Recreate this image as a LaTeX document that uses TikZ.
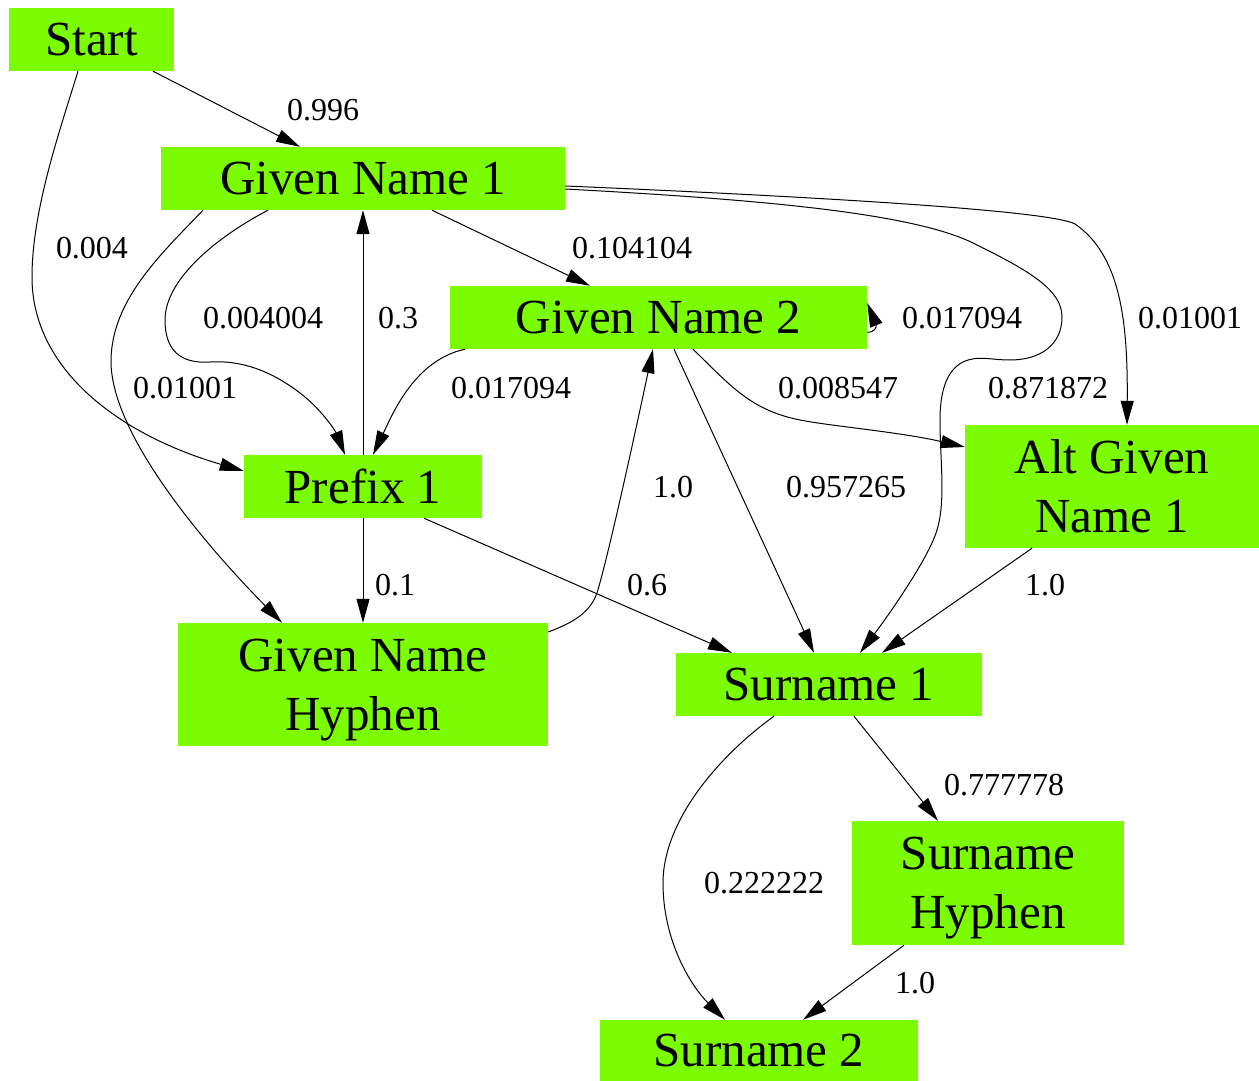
\documentclass[tikz,border=0pt]{standalone}
\usepackage{fontspec}
\setmainfont{Liberation Serif}
\usetikzlibrary{arrows.meta}
\definecolor{lgreen}{HTML}{7CFC00}
\begin{document}
\begin{tikzpicture}[x=1pt,y=-1pt,
  box/.style={rectangle, fill=lgreen, inner sep=0pt, align=center,
    font=\fontsize{49}{59}\selectfont},
  lbl/.style={inner sep=0pt, font=\fontsize{32}{38}\selectfont},
  conn/.style={draw=black, line width=1pt, -{Triangle[length=24pt,width=13pt]}}]
\useasboundingbox (0,0) rectangle (1259,1081);

% nodes
\node[box, minimum width=165pt, minimum height=63pt] (start) at (91.5,39.5) {Start};
\node[box, minimum width=404pt, minimum height=63pt] (gn1) at (363,178.5) {Given Name 1};
\node[box, minimum width=417pt, minimum height=63pt] (gn2) at (658.5,317.5) {Given Name 2};
\node[box, minimum width=238pt, minimum height=63pt] (p1) at (363,486.5) {Prefix 1};
\node[box, minimum width=294pt, minimum height=123pt] (alt) at (1112,486.5) {Alt Given\\Name 1};
\node[box, minimum width=370pt, minimum height=123pt] (gnh) at (363,684.5) {Given Name\\\raisebox{0pt}[\height][0pt]{Hyphen}};
\node[box, minimum width=306pt, minimum height=63pt] (s1) at (829,684.5) {Surname 1};
\node[box, minimum width=272pt, minimum height=124pt] (sh) at (988,883) {Surname\\\raisebox{0pt}[\height][0pt]{Hyphen}};
\node[box, minimum width=318pt, minimum height=61pt] (s2) at (759,1050.5) {Surname 2};

% connectors
\draw[conn] (start.south -| 153,0) -- (gn1.north -| 300,0);
\draw[conn] (start.south -| 78,0) .. controls (60,130) and (32,210) .. (32,277)
  .. controls (32,370) and (120,435) .. (p1.west |- 0,471);
\draw[conn] (gn1.south -| 432,0) -- (gn2.north -| 590,0);
\draw[conn] (gn1.south -| 268,0) .. controls (215,238) and (165,280) .. (165,320)
  .. controls (165,350) and (180,364) .. (210,362)
  .. controls (240,360) and (270,370) .. (300,393)
  .. controls (320,408) and (335,430) .. (p1.north -| 345,0);
\draw[conn] (p1.north) -- (gn1.south);
\draw[conn] (gn1.south -| 203,0) .. controls (160,255) and (112,300) .. (111,360)
  .. controls (110,440) and (222,562) .. (gnh.north -| 282,0);
\draw[conn] (gn2.south -| 465,0) .. controls (415,360) and (393,413) .. (p1.north -| 373,0);
\draw[conn] (gn2.east |- 0,332) .. controls (874,333) and (877,327) .. (gn2.east |- 0,303);
\draw[conn] (gn2.south -| 693,0) .. controls (730,385) and (750,410) .. (800,420)
  .. controls (830,426) and (900,432) .. (alt.west |- 0,447);
\draw[conn] (gn2.south -| 674,0) -- (s1.north -| 814,0);
\draw[conn] (gn1.east |- 0,189) .. controls (750,199) and (910,212) .. (973,243)
  .. controls (1030,271) and (1062,290) .. (1062,317)
  .. controls (1062,345) and (1040,360) .. (1010,360)
  .. controls (990,360) and (978,355) .. (963,362)
  .. controls (945,371) and (940,395) .. (940,420)
  .. controls (940,460) and (946,500) .. (937,530)
  .. controls (928,560) and (885,620) .. (s1.north -| 860,0);
\draw[conn] (gn1.east |- 0,186) .. controls (800,196) and (1050,210) .. (1075,224)
  .. controls (1120,255) and (1128,320) .. (alt.north -| 1127,0);
\draw[conn] (gnh.east |- 0,632) .. controls (575,622) and (590,612) .. (597,593)
  .. controls (610,550) and (640,410) .. (gn2.south -| 653,0);
\draw[conn] (p1.south) -- (gnh.north);
\draw[conn] (p1.south -| 424,0) -- (s1.north -| 732,0);
\draw[conn] (alt.south -| 1032,0) -- (s1.north -| 882,0);
\draw[conn] (s1.south -| 854,0) -- (sh.north -| 938,0);
\draw[conn] (s1.south -| 774,0) .. controls (720,755) and (663,820) .. (663,883)
  .. controls (663,940) and (690,985) .. (s2.north -| 725,0);
\draw[conn] (sh.south -| 904,0) -- (s2.north -| 803,0);

% labels
\node[lbl] (l1) at (323,110) {0.996};
\node[lbl] (l2) at (92,248) {0.004};
\node[lbl] (l3) at (632,248) {0.104104};
\node[lbl] (l4) at (263,318) {0.004004};
\node[lbl] (l5) at (398,318) {0.3};
\node[lbl] (l6) at (185,388) {0.01001};
\node[lbl] (l7) at (511,388) {0.017094};
\node[lbl] (l8) at (962,318) {0.017094};
\node[lbl] (l9) at (838,388) {0.008547};
\node[lbl] (l10) at (846,487) {0.957265};
\node[lbl] (l11) at (1048,388) {0.871872};
\node[lbl] (l12) at (1190,318) {0.01001};
\node[lbl] (l13) at (673,487) {1.0};
\node[lbl] (l14) at (395,585) {0.1};
\node[lbl] (l15) at (647,585) {0.6};
\node[lbl] (l16) at (1045,585) {1.0};
\node[lbl] (l17) at (1004,785) {0.777778};
\node[lbl] (l18) at (764,883) {0.222222};
\node[lbl] (l19) at (915,983) {1.0};
\end{tikzpicture}
\end{document}
